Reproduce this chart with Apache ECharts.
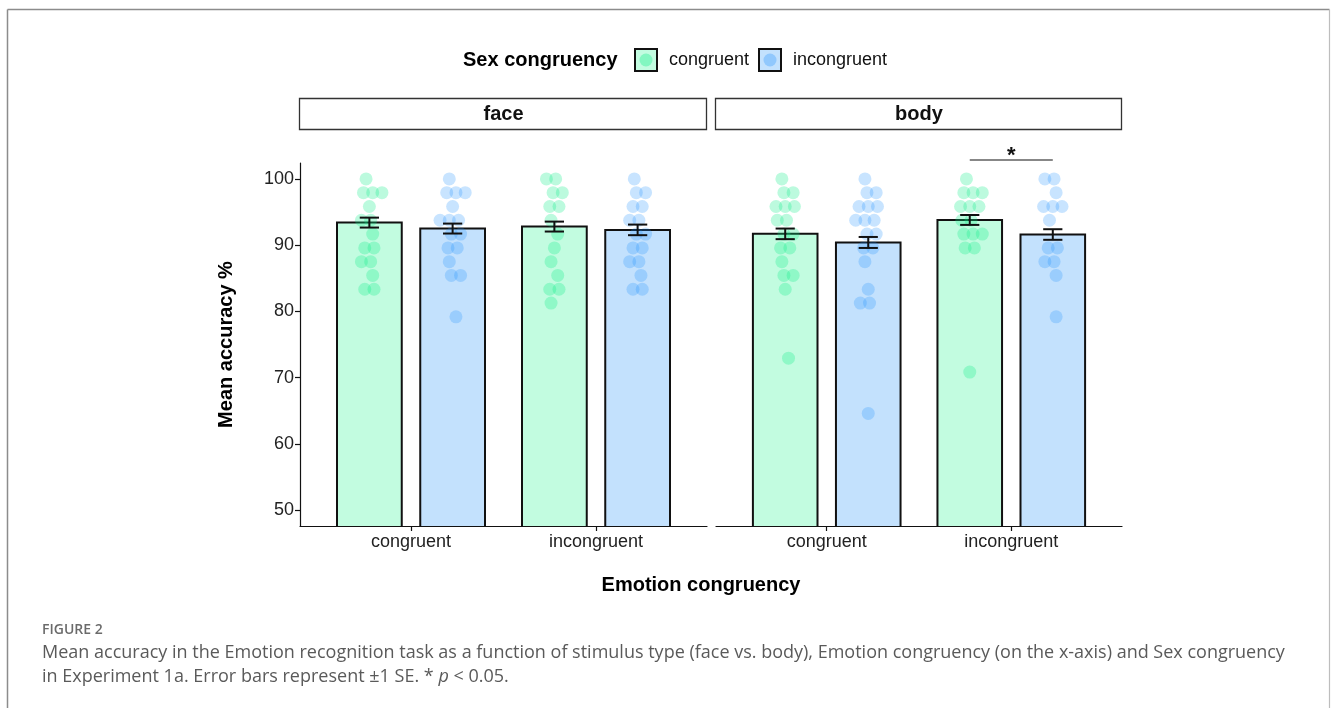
<!DOCTYPE html>
<html>
<head>
<meta charset="utf-8">
<script src="https://cdn.jsdelivr.net/npm/echarts@6/dist/echarts.min.js"></script>
<style>
  html, body { margin: 0; padding: 0; background: #ffffff; }
  #chart { width: 1331px; height: 708px; }
</style>
</head>
<body>
<div id="chart"></div>
<script>
// ---- data -------------------------------------------------------------
const stimulusTypes = ['face', 'body'];
const emotionLevels = ['congruent', 'incongruent'];
const sexLevels = ['congruent', 'incongruent'];
const yTicks = [50, 60, 70, 80, 90, 100];

// mean accuracy (%) for [emotion congruent, emotion incongruent]
const faceSexCongMean = [93.4, 92.8];
const faceSexIncongMean = [92.5, 92.3];
const bodySexCongMean = [91.7, 93.8];
const bodySexIncongMean = [90.4, 91.6];

// standard errors for the same cells
const faceSexCongSE = [0.75, 0.75];
const faceSexIncongSE = [0.75, 0.8];
const bodySexCongSE = [0.8, 0.75];
const bodySexIncongSE = [0.83, 0.8];

// individual participant accuracies (%)
const faceEmoCongSexCong = [100, 97.92, 97.92, 97.92, 95.83, 93.75, 93.75, 91.67, 89.58, 89.58, 87.5, 87.5, 85.42, 83.33, 83.33];
const faceEmoCongSexIncong = [100, 97.92, 97.92, 97.92, 95.83, 93.75, 93.75, 93.75, 91.67, 91.67, 89.58, 89.58, 87.5, 85.42, 85.42, 79.17];
const faceEmoIncongSexCong = [100, 100, 97.92, 97.92, 95.83, 95.83, 93.75, 91.67, 89.58, 87.5, 85.42, 83.33, 83.33, 81.25];
const faceEmoIncongSexIncong = [100, 97.92, 97.92, 95.83, 95.83, 93.75, 93.75, 91.67, 91.67, 89.58, 89.58, 87.5, 87.5, 85.42, 83.33, 83.33];
const bodyEmoCongSexCong = [100, 97.92, 97.92, 95.83, 95.83, 95.83, 93.75, 93.75, 91.67, 91.67, 89.58, 89.58, 87.5, 85.42, 85.42, 83.33, 72.92];
const bodyEmoCongSexIncong = [100, 97.92, 97.92, 95.83, 95.83, 95.83, 93.75, 93.75, 93.75, 91.67, 91.67, 89.58, 89.58, 87.5, 83.33, 81.25, 81.25, 64.58];
const bodyEmoIncongSexCong = [100, 97.92, 97.92, 97.92, 95.83, 95.83, 95.83, 93.75, 93.75, 91.67, 91.67, 91.67, 89.58, 89.58, 70.83];
const bodyEmoIncongSexIncong = [100, 100, 97.92, 95.83, 95.83, 95.83, 93.75, 89.58, 89.58, 87.5, 87.5, 85.42, 79.17];

// significant pairwise comparisons (stimulus, emotion level, label)
const sigStimulus = ['body'];
const sigEmotion = ['incongruent'];
const sigLabel = ['*'];

// ---- styling -----------------------------------------------------------
const FONT = '"Liberation Sans", Arial, Helvetica, sans-serif';
const fillColors = ['#c2fce0', '#c3e1fd'];
const pointColors = ['rgba(10, 236, 135, 0.34)', 'rgba(30, 144, 255, 0.30)'];
const Y_MIN = 47.58, Y_MAX = 102.4;
const X_MIN = 0.4, X_MAX = 2.6;
const DODGE = 0.225, BAR_HALF = 0.175, CAP_HALF = 0.052;

const panelMeans = { face: [faceSexCongMean, faceSexIncongMean], body: [bodySexCongMean, bodySexIncongMean] };
const panelSE = { face: [faceSexCongSE, faceSexIncongSE], body: [bodySexCongSE, bodySexIncongSE] };
const panelPoints = {
  face: [[faceEmoCongSexCong, faceEmoCongSexIncong], [faceEmoIncongSexCong, faceEmoIncongSexIncong]],
  body: [[bodyEmoCongSexCong, bodyEmoCongSexIncong], [bodyEmoIncongSexCong, bodyEmoIncongSexIncong]]
};

const grids = [
  { left: 300, width: 407, top: 163, bottom: 182 },
  { left: 716, width: 406, top: 163, bottom: 182 }
];

// horizontal jitter: tied scores are spread side by side around the bar centre
function jittered(values, centre) {
  const counts = {}, seen = {};
  values.forEach(v => { counts[v] = (counts[v] || 0) + 1; });
  return values.map(v => {
    const k = seen[v] || 0; seen[v] = k + 1;
    const n = counts[v];
    const step = Math.round(v * 48 / 100);
    const wobble = ((step % 3) - 1) * 0.018;
    return [centre + (k - (n - 1) / 2) * 0.05 + wobble, v];
  });
}

function renderBar(params, api) {
  const emo = api.value(0), sex = api.value(1), mean = api.value(2);
  const xc = emo + (sex === 0 ? -DODGE : DODGE);
  const tl = api.coord([xc - BAR_HALF, mean]);
  const br = api.coord([xc + BAR_HALF, Y_MIN]);
  return {
    type: 'rect',
    shape: { x: tl[0], y: tl[1], width: br[0] - tl[0], height: br[1] - tl[1] + 1 },
    style: { fill: fillColors[sex], stroke: '#111111', lineWidth: 2 }
  };
}

function renderError(params, api) {
  const emo = api.value(0), sex = api.value(1), mean = api.value(2), se = api.value(3);
  const xc = emo + (sex === 0 ? -DODGE : DODGE);
  const hi = api.coord([xc, mean + se]);
  const lo = api.coord([xc, mean - se]);
  const l = api.coord([xc - CAP_HALF, mean])[0];
  const r = api.coord([xc + CAP_HALF, mean])[0];
  const st = { stroke: '#111111', lineWidth: 2 };
  return {
    type: 'group',
    children: [
      { type: 'line', shape: { x1: hi[0], y1: hi[1], x2: lo[0], y2: lo[1] }, style: st },
      { type: 'line', shape: { x1: l, y1: hi[1], x2: r, y2: hi[1] }, style: st },
      { type: 'line', shape: { x1: l, y1: lo[1], x2: r, y2: lo[1] }, style: st }
    ]
  };
}

function renderSig(params, api) {
  const emo = api.value(0);
  const a = api.coord([emo - DODGE, 102.85]);
  const b = api.coord([emo + DODGE, 102.85]);
  return {
    type: 'group',
    children: [
      { type: 'line', shape: { x1: a[0], y1: a[1], x2: b[0], y2: b[1] }, style: { stroke: '#111111', lineWidth: 1.1 } },
      { type: 'text', x: (a[0] + b[0]) / 2, y: a[1] - 4,
        style: { text: sigLabel[params.dataIndex], font: 'bold 22px ' + FONT, fill: '#111111', align: 'center', verticalAlign: 'middle' } }
    ]
  };
}

const xAxes = [], yAxes = [], series = [];
stimulusTypes.forEach((stim, gi) => {
  xAxes.push({
    type: 'value', gridIndex: gi, min: X_MIN, max: X_MAX,
    axisLine: { show: true, lineStyle: { color: '#111111', width: 1.2 } },
    axisTick: { show: true, customValues: [1, 2], length: 5, lineStyle: { color: '#111111', width: 1.2 } },
    axisLabel: { customValues: [1, 2], formatter: v => emotionLevels[Math.round(v) - 1], fontFamily: FONT, fontSize: 18, color: '#222222', margin: 7 },
    splitLine: { show: false }
  });
  yAxes.push({
    type: 'value', gridIndex: gi, min: Y_MIN, max: Y_MAX, show: gi === 0,
    name: gi === 0 ? 'Mean accuracy %' : '', nameLocation: 'middle', nameRotate: 90, nameGap: 64,
    nameTextStyle: { fontFamily: FONT, fontSize: 20, fontWeight: 'bold', color: '#000000' },
    axisLine: { show: true, lineStyle: { color: '#111111', width: 1.2 } },
    axisTick: { show: true, customValues: yTicks, length: 5, lineStyle: { color: '#111111', width: 1.2 } },
    axisLabel: { customValues: yTicks, fontFamily: FONT, fontSize: 18, color: '#222222', margin: 6 },
    splitLine: { show: false }
  });

  const barRows = [];
  emotionLevels.forEach((emo, ei) => {
    sexLevels.forEach((sex, si) => {
      barRows.push([ei + 1, si, panelMeans[stim][si][ei], panelSE[stim][si][ei]]);
    });
  });

  series.push({
    type: 'custom', name: stim + ' bars', xAxisIndex: gi, yAxisIndex: gi, z: 1,
    renderItem: renderBar, data: barRows, clip: true, silent: true
  });

  sexLevels.forEach((sex, si) => {
    let pts = [];
    emotionLevels.forEach((emo, ei) => {
      const centre = ei + 1 + (si === 0 ? -DODGE : DODGE);
      pts = pts.concat(jittered(panelPoints[stim][ei][si], centre));
    });
    series.push({
      type: 'scatter', name: sex, xAxisIndex: gi, yAxisIndex: gi, z: 2,
      symbol: 'circle', symbolSize: 13, data: pts,
      itemStyle: { color: pointColors[si], borderWidth: 0 }, silent: true
    });
  });

  series.push({
    type: 'custom', name: stim + ' errors', xAxisIndex: gi, yAxisIndex: gi, z: 3,
    renderItem: renderError, data: barRows, clip: false, silent: true
  });

  const sigRows = [];
  sigStimulus.forEach((s, k) => { if (s === stim) sigRows.push([emotionLevels.indexOf(sigEmotion[k]) + 1]); });
  if (sigRows.length) {
    series.push({
      type: 'custom', name: stim + ' comparisons', xAxisIndex: gi, yAxisIndex: gi, z: 4,
      renderItem: renderSig, data: sigRows, clip: false, silent: true
    });
  }
});

// ---- facet strips, legend, titles, caption -----------------------------
const graphic = [];
stimulusTypes.forEach((stim, gi) => {
  const g = grids[gi];
  graphic.push({ type: 'rect', shape: { x: g.left - 0.5, y: 98.5, width: g.width, height: 31 },
    style: { fill: '#ffffff', stroke: '#333333', lineWidth: 1.3 } });
  graphic.push({ type: 'text', x: g.left + g.width / 2, y: 114,
    style: { text: stim, font: 'bold 20px ' + FONT, fill: '#111111', align: 'center', verticalAlign: 'middle' } });
});

graphic.push({ type: 'text', x: 463, y: 60,
  style: { text: 'Sex congruency', font: 'bold 20px ' + FONT, fill: '#000000', align: 'left', verticalAlign: 'middle' } });
const keyX = [635, 759];
sexLevels.forEach((sex, si) => {
  graphic.push({ type: 'rect', shape: { x: keyX[si], y: 49, width: 22, height: 22 },
    style: { fill: fillColors[si], stroke: '#111111', lineWidth: 2 } });
  graphic.push({ type: 'circle', shape: { cx: keyX[si] + 11, cy: 60, r: 6.5 },
    style: { fill: pointColors[si] } });
  graphic.push({ type: 'text', x: keyX[si] + 34, y: 60,
    style: { text: sex, font: '18px ' + FONT, fill: '#111111', align: 'left', verticalAlign: 'middle' } });
});

graphic.push({ type: 'text', x: 701, y: 585,
  style: { text: 'Emotion congruency', font: 'bold 20px ' + FONT, fill: '#000000', align: 'center', verticalAlign: 'middle' } });

// page frame
graphic.push({ type: 'line', shape: { x1: 7.5, y1: 9.5, x2: 1329.5, y2: 9.5 }, style: { stroke: '#8c8c8c', lineWidth: 1.5 } });
graphic.push({ type: 'line', shape: { x1: 7.5, y1: 9.5, x2: 7.5, y2: 708 }, style: { stroke: '#8c8c8c', lineWidth: 1.5 } });
graphic.push({ type: 'line', shape: { x1: 1329.5, y1: 9.5, x2: 1329.5, y2: 708 }, style: { stroke: '#bdbdbd', lineWidth: 1.2 } });

const CAP_FONT = '"Open Sans", "Noto Sans", sans-serif';
graphic.push({ type: 'text', x: 42, y: 630,
  style: { text: 'FIGURE 2', font: '600 14px ' + CAP_FONT, fill: '#6b6b6b', align: 'left', verticalAlign: 'middle' } });
graphic.push({ type: 'text', x: 42, y: 653,
  style: { text: 'Mean accuracy in the Emotion recognition task as a function of stimulus type (face vs. body), Emotion congruency (on the x-axis) and Sex congruency',
    font: '18px ' + CAP_FONT, fill: '#5a5a5a', align: 'left', verticalAlign: 'middle' } });
graphic.push({ type: 'text', x: 42, y: 677,
  style: { rich: {
      n: { font: '18px ' + CAP_FONT, fill: '#5a5a5a' },
      i: { font: 'italic 18px ' + CAP_FONT, fill: '#5a5a5a' }
    },
    text: '{n|in Experiment 1a. Error bars represent ±1 SE. * }{i|p}{n| < 0.05.}',
    align: 'left', verticalAlign: 'middle' } });

const chart = echarts.init(document.getElementById('chart'), null, { renderer: 'canvas' });
chart.setOption({
  animation: false,
  backgroundColor: '#ffffff',
  grid: grids,
  xAxis: xAxes,
  yAxis: yAxes,
  series: series,
  graphic: graphic
});
</script>
</body>
</html>
